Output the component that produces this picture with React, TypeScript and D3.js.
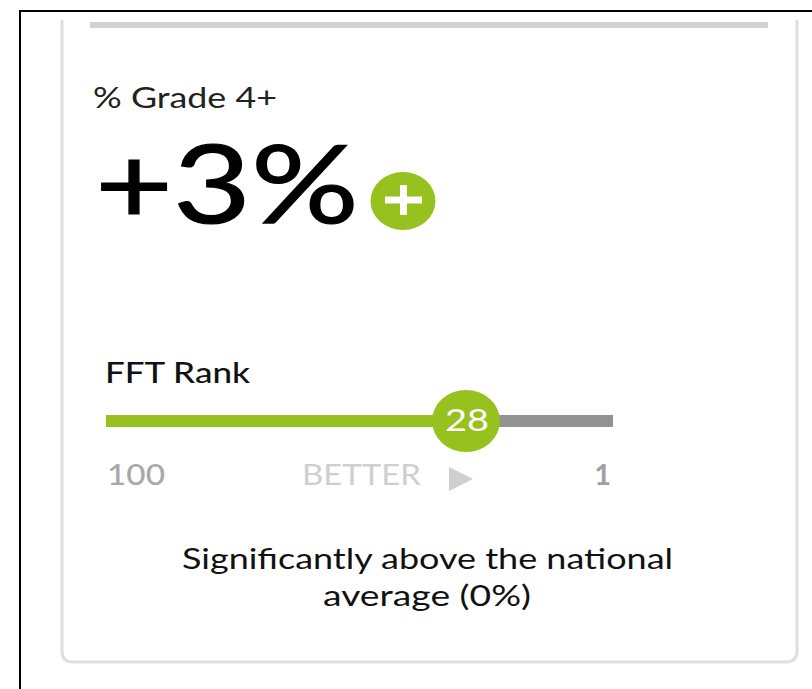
import React from 'react';
import * as d3 from 'd3';

const measureLabel = "% Grade 4+";
const measureValue = 3;
const rankLabel = "FFT Rank";
const rankDomain = [100, 1];
const rankValue = 28;
const betterLabel = "BETTER";
const noteLines = ["Significantly above the national", "average (0%)"];
const noteWidths = [491, 208];

const GREEN = "#97c11f";
const FONT = "Lato, 'Noto Sans', sans-serif";

export default function App() {
  const width = 812;
  const height = 689;

  // the handle stops short of the track end, as in the widget
  const handleX = d3.scaleLinear().domain(rankDomain).range([106, 601]);
  const trackStart = handleX(rankDomain[0]);
  const trackEnd = 613;
  const cx = handleX(rankValue);
  const formatDelta = d3.format("+d");

  return (
    <svg
      width={width}
      height={height}
      viewBox={`0 0 ${width} ${height}`}
      style={{ position: "absolute", left: 0, top: 0, fontFamily: FONT }}
    >
      <rect width={width} height={height} fill="#fff" />

      {/* outer frame, cut by the crop on the right and bottom */}
      <path d={`M20 ${height}V11H${width}`} fill="none" stroke="#000" strokeWidth={2} />

      {/* card */}
      <path
        d="M62 20V651Q62 662 73 662H786Q797 662 797 651V20"
        fill="none"
        stroke="#dfdfdf"
        strokeWidth={3}
      />
      <rect x={90} y={22} width={678} height={6} fill="#d2d2d2" />

      <text x={93} y={108} fontSize={28} textLength={184} lengthAdjust="spacingAndGlyphs" fill="#222">{measureLabel}</text>

      <text
        x={95}
        y={223}
        fontSize={108}
        textLength={264}
        lengthAdjust="spacingAndGlyphs"
        fill="#000"
        stroke="#000"
        strokeWidth={1.2}
      >
        {formatDelta(measureValue)}%
      </text>
      <ellipse cx={403} cy={201} rx={32.5} ry={29} fill={GREEN} />
      <path d="M385 200H422M403.5 185V215" stroke="#fff" strokeWidth={7} />

      <text x={105} y={383} fontSize={28} fontWeight={500} textLength={145} lengthAdjust="spacingAndGlyphs" fill="#111">{rankLabel}</text>

      <rect x={trackStart} y={415} width={trackEnd - trackStart} height={12} fill="#939393" />
      <rect x={trackStart} y={415} width={cx - trackStart} height={12} fill={GREEN} />
      <ellipse cx={cx} cy={421} rx={34} ry={31} fill={GREEN} />
      <text x={445} y={431} fontSize={30} textLength={44} lengthAdjust="spacingAndGlyphs" fill="#fff">{rankValue}</text>

      <text x={107} y={485} fontSize={29} fontWeight={500} textLength={58} lengthAdjust="spacingAndGlyphs" fill="#a8a8a8">{rankDomain[0]}</text>
      <text x={302} y={485} fontSize={29} textLength={119} lengthAdjust="spacingAndGlyphs" fill="#cfcfcf">{betterLabel}</text>
      <path d="M449 467L473 479L449 491Z" fill="#cfcfcf" />
      <text x={611} y={485} fontSize={29} fontWeight={700} textAnchor="end" fill="#a0a0a0">{rankDomain[1]}</text>

      {noteLines.map((line, i) => (
        <text
          key={line}
          x={i === 0 ? 182 : 323}
          y={569 + i * 37}
          fontSize={28}
          textLength={noteWidths[i]}
          lengthAdjust="spacingAndGlyphs"
          fill="#111"
        >
          {line}
        </text>
      ))}
    </svg>
  );
}
